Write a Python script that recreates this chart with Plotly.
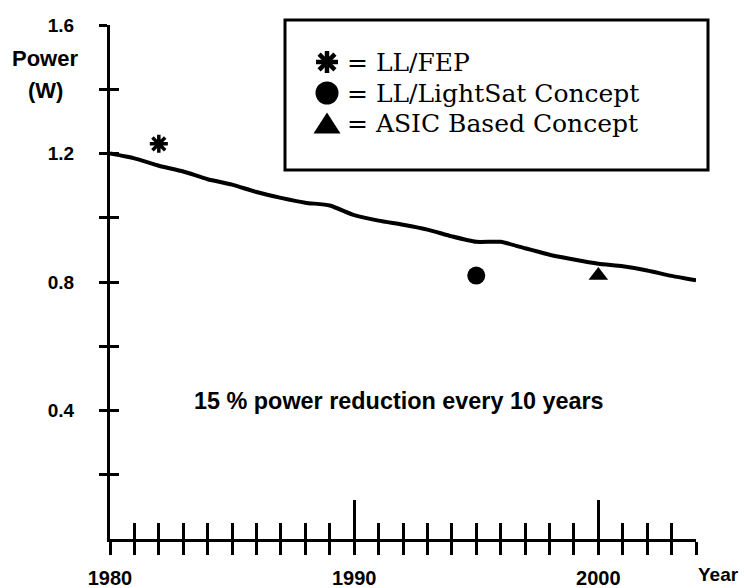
import plotly.graph_objects as go

# Power trend, one value per year
years = list(range(1980, 2005))
power = [1.200, 1.185, 1.162, 1.144, 1.120, 1.103, 1.080, 1.062, 1.047, 1.038,
         1.008, 0.991, 0.978, 0.963, 0.942, 0.925, 0.925, 0.905, 0.885, 0.870,
         0.857, 0.849, 0.836, 0.819, 0.805]

# Individual design points
fep_year, fep_power = [1982], [1.23]
lightsat_year, lightsat_power = [1995], [0.82]
asic_year, asic_power = [2000], [0.82]

# Axis ticks
y_tick_vals = [0.2, 0.4, 0.6, 0.8, 1.0, 1.2, 1.4, 1.6]
y_tick_text = ["", "0.4", "", "0.8", "", "1.2", "", "1.6"]
x_tick_vals = [1980, 1990, 2000]
x_tick_text = ["1980", "1990", "2000"]
x_major_up = [1990, 2000]

legend_labels = ["= LL/FEP", "= LL/LightSat Concept", "= ASIC Based Concept"]
note_text = "15 % power reduction every 10 years"

X_RANGE = [1980, 2004]
Y_RANGE = [0, 1.6]

fig = go.Figure()

fig.add_trace(go.Scatter(
    x=years, y=power, mode="lines",
    line=dict(color="black", width=4, shape="spline", smoothing=0.6),
    showlegend=False, hoverinfo="skip",
))

fig.add_trace(go.Scatter(
    x=fep_year, y=fep_power, mode="markers", xaxis="x2", yaxis="y2",
    marker=dict(symbol="asterisk-open", size=15, color="black",
                line=dict(color="black", width=3.5)),
    showlegend=False,
))
fig.add_trace(go.Scatter(
    x=lightsat_year, y=lightsat_power, mode="markers", xaxis="x2", yaxis="y2",
    marker=dict(symbol="circle", size=18, color="black", line=dict(width=0)),
    showlegend=False,
))
fig.add_trace(go.Scatter(
    x=asic_year, y=asic_power, mode="markers", xaxis="x2", yaxis="y2",
    marker=dict(symbol="triangle-up", size=17, color="black", line=dict(width=0)),
    showlegend=False,
))

bold_sans = dict(family="Liberation Sans", color="black", weight="bold")

fig.update_layout(
    width=744, height=588,
    margin=dict(l=110, r=48, t=25, b=49),
    paper_bgcolor="white", plot_bgcolor="white",
    showlegend=False,
    xaxis=dict(
        range=X_RANGE, showgrid=False, zeroline=False, automargin=False,
        showline=True, linecolor="black", linewidth=3,
        tickmode="array", tickvals=x_tick_vals, ticktext=x_tick_text,
        ticks="outside", ticklen=13, tickwidth=3, tickcolor="black",
        ticklabelstandoff=6,
        tickfont=dict(size=20, **bold_sans),
        minor=dict(ticks="outside", ticklen=13, tickwidth=3, tickcolor="black",
                   tick0=1980, dtick=1, showgrid=False),
    ),
    yaxis=dict(
        range=Y_RANGE, showgrid=False, zeroline=False, automargin=False,
        showline=True, linecolor="black", linewidth=3,
        tickmode="array", tickvals=y_tick_vals, ticktext=y_tick_text,
        ticks="outside", ticklen=8, tickwidth=3, tickcolor="black",
        ticklabelstandoff=21,
        tickfont=dict(size=19, **bold_sans),
    ),
    xaxis2=dict(
        range=X_RANGE, overlaying="x", anchor="y2", showgrid=False, zeroline=False,
        automargin=False, showline=False,
        tickmode="array", tickvals=x_major_up, showticklabels=False,
        ticks="inside", ticklen=39, tickwidth=3, tickcolor="black",
        minor=dict(ticks="inside", ticklen=16, tickwidth=3, tickcolor="black",
                   tick0=1980, dtick=1, showgrid=False),
    ),
    yaxis2=dict(
        range=Y_RANGE, overlaying="y", anchor="x2", showgrid=False, zeroline=False,
        automargin=False, showline=False,
        tickmode="array", tickvals=y_tick_vals, showticklabels=False,
        ticks="inside", ticklen=9, tickwidth=3, tickcolor="black",
    ),
)

# pixel helpers for the plot frame (left 110, top 25, width 586, height 514)
def px_x(p):
    return (p - 110) / 586.0

def px_y(p):
    return (539 - p) / 514.0

# Key box
fig.add_shape(type="rect", xref="paper", yref="paper",
              x0=px_x(285), x1=px_x(708), y0=px_y(170), y1=px_y(20),
              line=dict(color="black", width=3), fillcolor="white", layer="above")

# Key symbols drawn as shapes: asterisk, disc, triangle
key_cx = 327
row_y = [62, 93, 123]

star_r = 11
star_segments = [(0, star_r), (star_r, 0), (0.72 * star_r, 0.72 * star_r), (0.72 * star_r, -0.72 * star_r)]
for dx, dy in star_segments:
    fig.add_shape(type="line", xref="paper", yref="paper",
                  x0=px_x(key_cx - dx), y0=px_y(row_y[0] - dy),
                  x1=px_x(key_cx + dx), y1=px_y(row_y[0] + dy),
                  line=dict(color="black", width=4.5), layer="above")

disc_r = 11.5
fig.add_shape(type="circle", xref="paper", yref="paper",
              x0=px_x(key_cx - disc_r), x1=px_x(key_cx + disc_r),
              y0=px_y(row_y[1] + disc_r), y1=px_y(row_y[1] - disc_r),
              fillcolor="black", line=dict(color="black", width=0), layer="above")

tri_half_w, tri_h = 13.5, 21
tri_top = row_y[2] - tri_h / 2
tri_base = row_y[2] + tri_h / 2
tri_path = "M {} {} L {} {} L {} {} Z".format(
    px_x(key_cx - tri_half_w), px_y(tri_base),
    px_x(key_cx + tri_half_w), px_y(tri_base),
    px_x(key_cx), px_y(tri_top))
fig.add_shape(type="path", xref="paper", yref="paper", path=tri_path,
              fillcolor="black", line=dict(color="black", width=0), layer="above")

for label, ry in zip(legend_labels, row_y):
    fig.add_annotation(xref="paper", yref="paper", x=px_x(346), y=px_y(ry + 1),
                       text=label, showarrow=False, xanchor="left", yanchor="middle",
                       borderpad=0,
                       font=dict(family="DejaVu Serif", size=25, color="black"))

# Axis titles
fig.add_annotation(xref="paper", yref="paper", x=px_x(45), y=px_y(59),
                   text="Power", showarrow=False, xanchor="center", yanchor="middle",
                   font=dict(size=22, **bold_sans))
fig.add_annotation(xref="paper", yref="paper", x=px_x(45), y=px_y(90),
                   text="(W)", showarrow=False, xanchor="center", yanchor="middle",
                   font=dict(size=22, **bold_sans))
fig.add_annotation(xref="paper", yref="paper", x=px_x(740), y=px_y(574),
                   text="Year", showarrow=False, xanchor="right", yanchor="middle",
                   borderpad=0,
                   font=dict(size=19, **bold_sans))

# Trend note
fig.add_annotation(xref="paper", yref="paper", x=px_x(399), y=px_y(401),
                   text=note_text, showarrow=False, xanchor="center", yanchor="middle",
                   font=dict(size=23.4, **bold_sans))

fig.write_html("out.html")
